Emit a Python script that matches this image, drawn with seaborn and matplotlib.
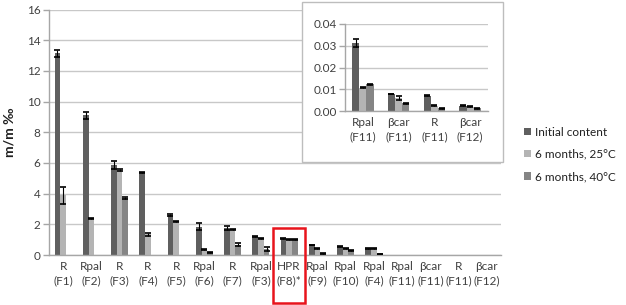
import numpy as np
import pandas as pd
import matplotlib
matplotlib.use("Agg")
import matplotlib.pyplot as plt
from matplotlib.patches import Rectangle
import seaborn as sns

categories = ["R\n(F1)", "Rpal\n(F2)", "R\n(F3)", "R\n(F4)", "R\n(F5)", "Rpal\n(F6)",
              "R\n(F7)", "Rpal\n(F3)", "HPR\n(F8)*", "Rpal\n(F9)", "Rpal\n(F10)",
              "Rpal\n(F4)", "Rpal\n(F11)", "βcar\n(F11)", "R\n(F11)", "βcar\n(F12)"]
series = ["Initial content", "6 months, 25°C", "6 months, 40°C"]

initial = [13.15, 9.1, 5.85, 5.38, 2.6, 1.85, 1.75, 1.18, 1.07, 0.65, 0.55, 0.4, 0.03, 0.008, 0.007, 0.0025]
m25 = [3.9, 2.4, 5.55, 1.35, 2.2, 0.35, 1.68, 1.08, 1.03, 0.42, 0.45, 0.4, 0.011, 0.006, 0.0025, 0.002]
m40 = [0.02, 0.02, 3.72, 0.02, 0.02, 0.17, 0.68, 0.38, 1.03, 0.08, 0.3, 0.06, 0.012, 0.0035, 0.0012, 0.0012]
# None = no visible error bar
err_initial = [0.22, 0.25, 0.25, 0.05, 0.05, 0.25, 0.12, 0.03, 0.04, 0.03, 0.03, 0.03, None, None, None, None]
err_m25 = [0.55, 0.03, 0.05, 0.08, 0.03, 0.03, 0.03, 0.03, 0.04, 0.03, 0.03, 0.03, None, None, None, None]
err_m40 = [None, None, 0.05, None, None, 0.03, 0.1, 0.15, 0.04, 0.02, 0.02, 0.02, None, None, None, None]

inset_categories = ["Rpal\n(F11)", "βcar\n(F11)", "R\n(F11)", "βcar\n(F12)"]
inset_initial = [0.0312, 0.0078, 0.0070, 0.0025]
inset_m25 = [0.0107, 0.0060, 0.0025, 0.0019]
inset_m40 = [0.0122, 0.0035, 0.0012, 0.0012]
inset_err_initial = [0.0017, 0.0002, 0.0002, 0.0002]
inset_err_m25 = [0.0002, 0.0011, 0.0002, 0.0002]
inset_err_m40 = [0.0002, 0.0002, 0.0002, 0.0002]

main_ticks = [0, 2, 4, 6, 8, 10, 12, 14, 16]
inset_ticks = [0.00, 0.01, 0.02, 0.03, 0.04]

colors = ["#5f5f5f", "#b4b4b4", "#858585"]
text_color = "#404040"
grid_color = "#c8c8c8"

sns.set_theme(style="white")
plt.rcParams["font.family"] = ["Lato", "DejaVu Sans"]
plt.rcParams["font.size"] = 8


def long_df(cats, vals):
    rows = []
    for s, v in zip(series, vals):
        for c, y in zip(cats, v):
            rows.append({"cat": c, "series": s, "value": y})
    return pd.DataFrame(rows)


def style_axes(ax, ticks, fmt, ncat):
    ax.set_ylim(ticks[0], ticks[-1])
    ax.set_yticks(ticks)
    ax.set_yticklabels([fmt.format(t) for t in ticks], color=text_color, fontsize=8.5)
    ax.yaxis.grid(True, color=grid_color, linewidth=1)
    ax.set_axisbelow(True)
    for s in ["top", "right"]:
        ax.spines[s].set_visible(False)
    for s in ["left", "bottom"]:
        ax.spines[s].set_color("#a6a6a6")
        ax.spines[s].set_linewidth(1)
    ax.set_xlim(-0.5, ncat - 0.5)
    ax.tick_params(axis="x", which="major", length=0, pad=4, labelcolor=text_color, labelsize=8.5)
    ax.set_xticks(np.arange(-0.5, ncat, 1.0), minor=True)
    ax.tick_params(axis="x", which="minor", length=4, color="#a6a6a6", width=1)
    ax.tick_params(axis="y", length=4, color="#a6a6a6", width=1, left=True, pad=2)
    for lbl in ax.get_xticklabels():
        lbl.set_linespacing(1.45)
    ax.set_xlabel("")


def add_errors(ax, errs):
    for cont, e in zip(ax.containers, errs):
        for b, ev in zip(cont, e):
            if ev is None:
                continue
            ax.errorbar(b.get_x() + b.get_width() / 2, b.get_height(), yerr=ev, fmt="none",
                        ecolor="black", elinewidth=0.8, capsize=2, capthick=1.2, zorder=5)


fig = plt.figure(figsize=(6.26, 3.05), dpi=100)
fig.patch.set_facecolor("white")

ax = fig.add_axes([49 / 626, 1 - 255 / 305, 452 / 626, 245.5 / 305])
df = long_df(categories, [initial, m25, m40])
sns.barplot(data=df, x="cat", y="value", hue="series", order=categories, hue_order=series,
            palette=colors, errorbar=None, width=0.6, linewidth=0, ax=ax)
handles, labels = ax.get_legend_handles_labels()
if ax.get_legend() is not None:
    ax.get_legend().remove()
add_errors(ax, [err_initial, err_m25, err_m40])
style_axes(ax, main_ticks, "{:g}", len(categories))
ax.set_ylabel("m/m ‰", fontweight="bold", fontsize=10, color="#202020", labelpad=8)

# red highlight around HPR (F8)*
ax.add_patch(Rectangle((8 - 0.57, -3.1), 1.14, 4.85, fill=False, edgecolor="#e8141c",
                       linewidth=1.8, clip_on=False, zorder=6))

# inset box
fig.patches.append(Rectangle((302 / 626, 1 - 162 / 305), 201 / 626, 160 / 305,
                             transform=fig.transFigure, facecolor="white",
                             edgecolor="#bdbdbd", linewidth=1, zorder=1))

axi = fig.add_axes([345 / 626, 1 - 111 / 305, 143 / 626, 87 / 305])
axi.set_zorder(2)
axi.patch.set_alpha(0)
dfi = long_df(inset_categories, [inset_initial, inset_m25, inset_m40])
sns.barplot(data=dfi, x="cat", y="value", hue="series", order=inset_categories, hue_order=series,
            palette=colors, errorbar=None, width=0.6, linewidth=0, ax=axi, legend=False)
add_errors(axi, [inset_err_initial, inset_err_m25, inset_err_m40])
style_axes(axi, inset_ticks, "{:.2f}", len(inset_categories))
axi.set_ylabel("")

fig.legend(handles, labels, loc="upper left", bbox_to_anchor=(513 / 626, 1 - 116 / 305),
           frameon=False, fontsize=8.5, handlelength=0.6, handleheight=0.6,
           handletextpad=0.4, labelspacing=0.95, labelcolor="#202020")

fig.savefig("out.png", dpi=100, facecolor="white")
